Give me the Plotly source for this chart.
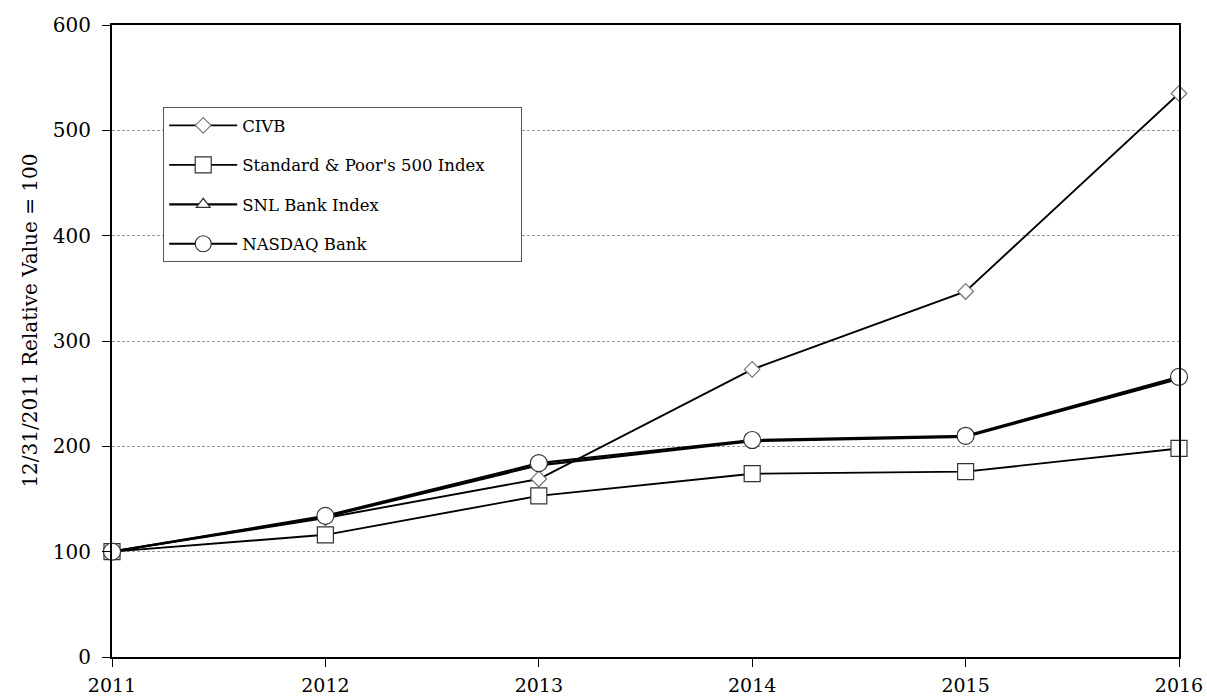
import plotly.graph_objects as go

years = [2011, 2012, 2013, 2014, 2015, 2016]
civb = [100, 132, 169, 273, 347, 535]
sp500 = [100, 116, 153, 174, 176, 198]
snl = [100, 133, 182, 205, 209, 264]
nasdaq = [100, 134, 184, 206, 210, 266]
y_ticks = [0, 100, 200, 300, 400, 500, 600]
names = ["CIVB", "Standard & Poor's 500 Index", "SNL Bank Index", "NASDAQ Bank"]
y_title = "12/31/2011 Relative Value = 100"

FONT = "DejaVu Serif"

fig = go.Figure()
styles = [
    ("diamond", 12, 1.9, "#777777"),
    ("square", 16, 1.9, "#333333"),
    ("triangle-up", 12, 2.2, "#333333"),
    ("circle", 17, 2.2, "#333333"),
]
pad = "\u00a0" * 6
for i, (name, vals, (sym, size, lw, mcol)) in enumerate(zip(names, [civb, sp500, snl, nasdaq], styles)):
    label = name + pad if i == 1 else name
    fig.add_trace(go.Scatter(
        x=years, y=vals, name=label, mode="lines+markers",
        line=dict(color="black", width=lw),
        marker=dict(symbol=sym, size=size, color="white",
                    line=dict(color=mcol, width=1.2)),
        legendgroup=f"g{i}", cliponaxis=False,
    ))

fig.add_annotation(
    text=y_title, textangle=-90, xref="paper", yref="paper",
    x=-0.077, y=0.532, xanchor="center", yanchor="middle",
    showarrow=False, font=dict(family=FONT, size=20, color="black"),
)

fig.update_layout(
    width=1207, height=698,
    margin=dict(l=112, r=28, t=25, b=41),
    paper_bgcolor="white", plot_bgcolor="white",
    font=dict(family=FONT, size=19, color="black"),
    showlegend=True,
    legend=dict(
        x=0.048, y=0.870, xanchor="left", yanchor="top",
        bordercolor="#555555", borderwidth=1, bgcolor="white",
        font=dict(family=FONT, size=16.5),
        tracegroupgap=15, itemwidth=68,
    ),
    xaxis=dict(
        range=[2011, 2016], tickvals=years, ticktext=[str(y) for y in years],
        showgrid=False, zeroline=False, showline=True, linecolor="black",
        linewidth=2, mirror=True, ticks="outside", ticklen=8,
        tickcolor="black", tickfont=dict(size=19), automargin=False,
        ticklabelstandoff=2,
    ),
    yaxis=dict(
        range=[0, 600], tickvals=y_ticks,
        showgrid=True, gridcolor="#999999", griddash="3px,2px", gridwidth=1,
        zeroline=False, showline=True, linecolor="black", linewidth=2,
        mirror=True, ticks="outside", ticklen=8, tickcolor="black",
        tickfont=dict(size=20), automargin=False, ticklabelstandoff=7,
    ),
)

fig.write_html(
    "out.html",
    config={"displayModeBar": False},
    post_script="document.body.style.margin='0';document.body.style.overflow='hidden';",
)
